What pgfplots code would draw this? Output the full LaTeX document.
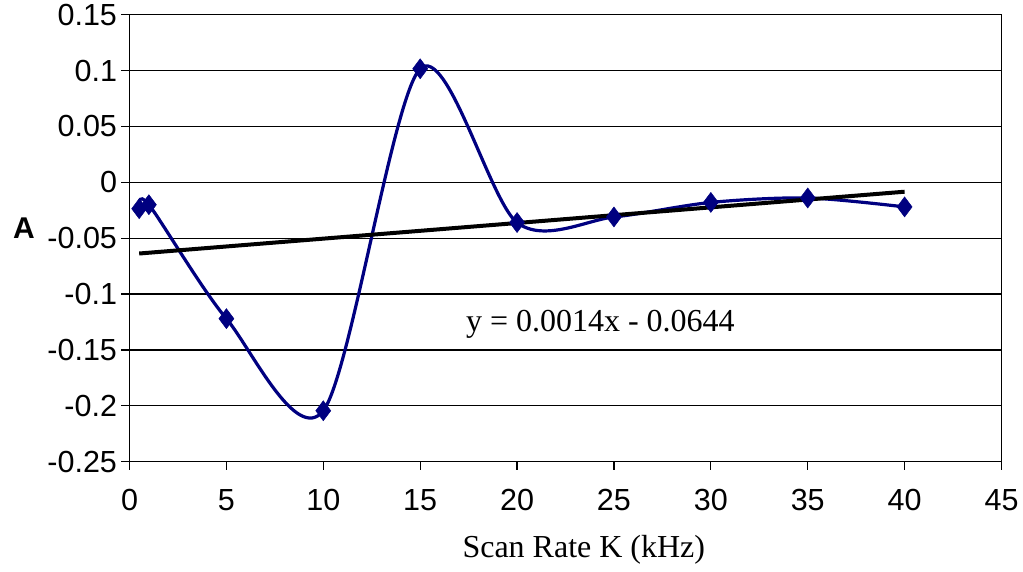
\documentclass[border=0pt]{standalone}
\usepackage{pgfplots}
\pgfplotsset{compat=1.18}
\usepackage{fontspec}
\setmainfont{Liberation Serif}
\newfontfamily\arial{Liberation Sans}
\definecolor{navy}{RGB}{0,0,128}
\begin{document}
\begin{tikzpicture}[x=1pt,y=1pt]
\useasboundingbox (0,0) rectangle (1023,571);
\begin{axis}[
  at={(129.5pt,109.3pt)}, anchor=south west,
  width=872pt, height=447pt, scale only axis,
  xmin=0, xmax=45, ymin=-0.25, ymax=0.15,
  xtick={0,5,...,45},
  ytick={-0.25,-0.2,-0.15,-0.1,-0.05,0,0.05,0.1,0.15},
  yticklabels={-0.25,-0.2,-0.15,-0.1,-0.05,0,0.05,0.1,0.15},
  xtick pos=bottom, ytick pos=left, tick align=outside,
  major tick length=8pt,
  tick style={black, line width=1.2pt},
  ymajorgrids, grid style={black, line width=1.2pt},
  axis line style={black, line width=1.2pt},
  /pgf/number format/assume math mode=true,
  tick label style={font=\arial\fontsize{30.5}{32}\selectfont},
  xticklabel style={yshift=-16pt},
  yticklabel style={xshift=-1pt},
  clip=false,
]
\addplot[navy, line width=3.2pt, smooth, mark=diamond*, mark size=10pt,
  mark options={solid, fill=navy, line width=0.5pt}] coordinates {
  (0.5,-0.0236) (1,-0.020) (5,-0.122) (10,-0.2044) (15,0.1016)
  (20,-0.036) (25,-0.031) (30,-0.018) (35,-0.014) (40,-0.022)
};
\addplot[black, line width=4pt] coordinates {(0.5,-0.0637) (40,-0.0084)};
\node[font=\fontsize{32}{34}\selectfont] at (axis cs:24.3,-0.127) {y = 0.0014x - 0.0644};
\node[font=\fontsize{32}{34}\selectfont] at (axis description cs:0.521,-0.1975) {Scan Rate K (kHz)};
\node[font=\arial\bfseries\fontsize{30}{32}\selectfont] at (axis description cs:-0.121,0.523) {A};
\end{axis}
\end{tikzpicture}
\end{document}
